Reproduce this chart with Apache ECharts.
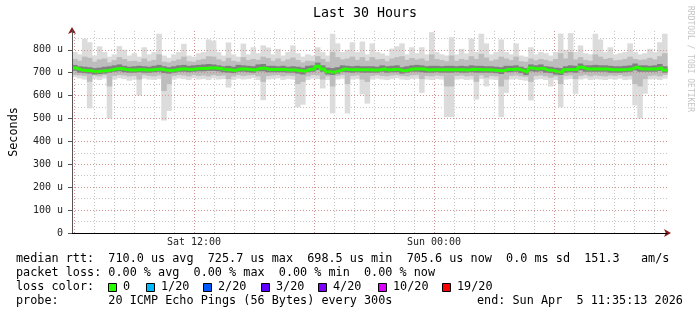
<!DOCTYPE html>
<html><head><meta charset="utf-8">
<script src="https://cdn.jsdelivr.net/npm/echarts@6/dist/echarts.min.js"></script>
<style>html,body{margin:0;padding:0;background:#fff}#c{width:697px;height:315px}</style>
</head><body><div id="c"></div>
<script>
// ---- data (hours since Sat 00:00; one column = 15 min) ----
const startHour = 5.65;      // Sat 05:39
const endHour = 35.65;       // Sun 11:39
const stepHours = 0.25;
const yMaxValue = 882;       // microseconds at top of plot
const yTickValues = [0,100,200,300,400,500,600,700,800];
const yTickLabels = ['0','100 u','200 u','300 u','400 u','500 u','600 u','700 u','800 u'];
const xTickHours = [12, 24];
const xTickLabels = ['Sat 12:00', 'Sun 00:00'];

const median = [
720,712,710,708,704,706,708,712,716,718,
714,712,712,714,712,712,714,716,712,710,
712,716,716,714,716,718,718,720,720,718,
714,713,710,716,716,714,712,718,720,714,
714,714,714,712,712,710,706,714,716,728,
716,704,702,708,716,714,713,713,713,713,
712,712,716,712,714,714,708,712,716,716,
716,712,713,713,713,713,713,713,713,712,
715,714,713,713,712,710,708,714,714,716,
710,702,720,716,720,712,711,704,702,713,
714,714,724,716,716,716,716,716,713,713,
713,714,716,724,716,716,716,716,722,712];

const smokeHi = [
790,780,848,833,775,815,790,770,780,816,
800,775,785,770,811,780,790,870,775,765,
780,790,826,775,770,785,790,845,840,790,
775,832,780,770,827,780,811,785,819,810,
780,804,775,790,819,785,770,780,775,811,
790,775,870,828,790,800,833,790,836,780,
828,790,784,775,805,815,828,780,811,785,
811,780,877,790,780,775,855,780,804,784,
849,790,870,828,780,790,845,790,780,828,
775,770,811,780,790,785,775,790,871,800,
873,790,819,785,780,870,845,790,811,780,
785,790,828,790,780,785,804,790,833,870];

const smokeLo = [
680,675,670,544,672,668,675,500,670,676,
672,665,670,600,674,670,668,672,491,533,
670,675,672,668,676,670,672,668,675,670,
672,635,668,674,670,672,676,668,580,670,
672,675,668,672,670,549,560,668,674,672,
631,668,522,670,674,522,670,672,605,565,
670,674,670,668,672,676,670,668,672,674,
612,670,668,672,670,506,506,670,672,668,
670,583,672,640,670,668,506,612,670,672,
668,665,579,670,672,668,640,668,549,670,
672,608,670,674,668,672,670,668,672,670,
674,668,670,557,500,608,670,672,668,674];

const midHi = [
760,752,770,765,748,758,762,745,755,768,
760,750,752,748,762,750,756,780,748,745,
752,758,770,750,748,756,760,772,770,758,
750,765,752,748,768,755,760,756,770,764,
752,762,750,758,766,755,745,752,750,772,
760,748,790,768,758,762,770,756,768,752,
768,758,760,750,762,768,772,756,764,758,
762,752,780,760,755,750,775,752,760,756,
772,760,782,766,752,758,770,762,755,770,
750,748,762,754,760,756,750,760,785,762,
790,758,768,756,752,780,770,760,764,754,
756,760,770,760,756,758,765,758,772,785];

const midLo = [
690,688,686,660,688,684,690,640,686,690,
688,684,686,670,690,686,684,688,620,650,
686,690,688,684,690,686,688,684,690,686,
688,672,684,690,686,688,690,684,660,686,
688,690,684,688,686,650,660,684,690,688,
670,684,640,686,690,650,686,688,670,660,
686,690,686,684,688,690,686,684,688,690,
672,686,684,688,686,640,640,686,688,684,
686,660,688,678,686,684,640,670,686,688,
684,682,660,686,688,684,678,684,650,686,
688,672,686,690,684,688,686,684,688,686,
690,684,686,650,640,672,686,688,684,690];

const innerHi = [
734,728,726,724,720,722,726,728,732,736,
730,726,728,730,728,726,730,734,728,724,
728,732,734,730,732,734,736,738,736,732,
728,730,726,734,732,730,728,736,738,730,
730,728,730,726,728,726,722,730,732,744,
732,722,720,724,732,730,728,730,728,728,
728,726,732,728,730,732,724,728,732,734,
732,728,730,730,728,730,730,728,730,728,
732,730,730,728,728,726,724,730,730,732,
726,720,736,732,736,728,726,722,720,728,
732,730,740,732,732,734,732,732,730,728,
728,730,732,740,732,732,730,732,738,728];

const innerLo = [
708,700,698,696,692,694,696,700,704,706,
702,700,700,702,700,700,702,704,698,696,
700,704,704,702,704,706,706,708,708,706,
702,700,698,704,704,702,700,706,706,702,
702,702,702,700,700,696,692,702,704,712,
704,692,690,696,704,702,700,702,700,700,
700,700,704,700,702,702,696,700,704,704,
702,700,700,702,700,700,700,702,700,700,
702,700,700,700,700,698,694,702,702,704,
698,690,706,704,706,700,698,692,690,700,
702,700,710,704,704,704,704,704,700,700,
700,702,704,710,704,704,704,704,708,700];

const lossLabels = ['0','1/20','2/20','3/20','4/20','10/20','19/20'];
const lossColors = ['#26ff00','#00b8ff','#0059ff','#5e00ff','#7e00ff','#dd00ff','#ff0000'];
const legendRow1 = 'median rtt:  710.0 us avg  725.7 us max  698.5 us min  705.6 us now  0.0 ms sd  151.3   am/s';
const legendRow2 = 'packet loss: 0.00 % avg  0.00 % max  0.00 % min  0.00 % now';
const legendRow3 = 'loss color:';
const legendRow4 = 'probe:       20 ICMP Echo Pings (56 Bytes) every 300s';
const legendEnd = 'end: Sun Apr  5 11:35:13 2026';
const titleText = 'Last 30 Hours';
const creditText = 'RRDTOOL / TOBI OETIKER';

// ---- build ----
function bandData(lo, hi) {
  return lo.map((v, i) => [startHour + i * stepHours, startHour + (i + 1) * stepHours, v, hi[i]]);
}
function renderBand(params, api) {
  const p0 = api.coord([api.value(0), api.value(3)]);
  const p1 = api.coord([api.value(1), api.value(2)]);
  return { type: 'rect', shape: { x: p0[0], y: p0[1], width: p1[0] - p0[0] + 0.6, height: p1[1] - p0[1] },
           style: { fill: api.visual('color') } };
}
// step 'end': each column drawn at its own value from its start to the next column start
const medianData = median.map((v, i) => [startHour + i * stepHours, v]);
medianData.push([endHour, median[median.length - 1]]);

const MONO = 'DejaVu Sans Mono';
const minorGrid = { color: 'rgba(150,150,150,0.55)', type: [1, 2], width: 1 };
const majorGrid = { color: 'rgba(215,110,110,0.6)', type: [1, 2], width: 1 };
const TOP = 31, H = 202;
const arrowLine = { show: true, symbol: ['none', 'arrow'], symbolSize: [6, 7], symbolOffset: [0, 4], lineStyle: { color: '#8b1a1a', width: 0 } };

const graphic = [
  { type: 'text', x: 365, y: 14, style: { text: titleText, font: '13.3px "DejaVu Sans Mono"', fill: '#000', align: 'center', verticalAlign: 'middle' } },
  { type: 'text', x: 690, y: 59, rotation: -Math.PI / 2, style: { text: creditText, font: '8px "DejaVu Sans Mono"', fill: '#c4c4c4', align: 'center', verticalAlign: 'middle' } },
  { type: 'text', x: 16, y: 259, style: { text: legendRow1, font: '11.8px "DejaVu Sans Mono"', fill: '#000', verticalAlign: 'middle' } },
  { type: 'text', x: 16, y: 273, style: { text: legendRow2, font: '11.8px "DejaVu Sans Mono"', fill: '#000', verticalAlign: 'middle' } },
  { type: 'text', x: 16, y: 287, style: { text: legendRow3, font: '11.8px "DejaVu Sans Mono"', fill: '#000', verticalAlign: 'middle' } },
  { type: 'text', x: 16, y: 301, style: { text: legendRow4, font: '11.8px "DejaVu Sans Mono"', fill: '#000', verticalAlign: 'middle' } },
  { type: 'text', x: 477, y: 301, style: { text: legendEnd, font: '11.8px "DejaVu Sans Mono"', fill: '#000', verticalAlign: 'middle' } }
];
const squareX = [108, 146, 203, 261, 318, 378, 442];
lossLabels.forEach((lab, i) => {
  graphic.push({ type: 'rect', shape: { x: squareX[i] + 0.5, y: 283.5, width: 8, height: 8 }, style: { fill: lossColors[i], stroke: '#000', lineWidth: 1 } });
  graphic.push({ type: 'text', x: squareX[i] + 15, y: 287, style: { text: lab, font: '11.8px "DejaVu Sans Mono"', fill: '#000', verticalAlign: 'middle' } });
});

const chart = echarts.init(document.getElementById('c'), null, { renderer: 'canvas' });
chart.setOption({
  backgroundColor: '#fff',
  animation: false,
  graphic: graphic,
  grid: [
    { left: 67, top: TOP, width: 600, height: H },
    { left: 54, top: TOP, width: 620, height: H },
    { left: 74, top: TOP, width: 600, height: H }
  ],
  xAxis: [
    { gridIndex: 0, type: 'value', min: startHour, max: endHour, position: 'bottom', z: 5,
      axisLine: { show: true, lineStyle: { color: '#000', width: 1 } }, axisTick: { show: false },
      axisLabel: { show: false }, splitLine: { show: false } },
    { gridIndex: 1, type: 'value', min: 5, max: 36, interval: 1, z: 1,
      axisLine: { show: false }, axisTick: { show: false }, axisLabel: { show: false },
      splitLine: { show: true, showMinLine: false, showMaxLine: false, lineStyle: minorGrid } },
    { gridIndex: 2, type: 'value', min: 6, max: 36, interval: 6, z: 2,
      axisLine: { show: false }, axisTick: { show: false },
      axisLabel: { show: true, showMaxLabel: false, margin: 4, fontFamily: MONO, fontSize: 10, color: '#222',
        formatter: v => { const k = xTickHours.indexOf(v); return k >= 0 ? xTickLabels[k] : ''; } },
      splitLine: { show: true, showMinLine: true, showMaxLine: false, lineStyle: majorGrid } },
    { gridIndex: 0, type: 'value', min: startHour, max: endHour, position: 'bottom', z: 4,
      axisLine: arrowLine, axisTick: { show: false }, axisLabel: { show: false }, splitLine: { show: false } }
  ],
  yAxis: [
    { gridIndex: 0, type: 'value', min: 0, max: yMaxValue, interval: 100, position: 'left', z: 5,
      axisLine: { show: true, lineStyle: { color: '#555', width: 1 } },
      axisTick: { show: true, length: 4, lineStyle: { color: '#555' } },
      axisLabel: { showMaxLabel: false, margin: 9, fontFamily: MONO, fontSize: 10, color: '#222',
        formatter: v => { const k = yTickValues.indexOf(v); return k >= 0 ? yTickLabels[k] : ''; } },
      splitLine: { show: true, showMaxLine: false, lineStyle: majorGrid },
      name: 'Seconds', nameLocation: 'middle', nameGap: 52, nameTextStyle: { fontFamily: MONO, fontSize: 11.8, color: '#000' } },
    { gridIndex: 0, type: 'value', min: 0, max: yMaxValue, interval: 50, position: 'left', z: 1,
      axisLine: { show: false }, axisTick: { show: false }, axisLabel: { show: false },
      splitLine: { show: true, showMinLine: false, showMaxLine: false, lineStyle: minorGrid } },
    { gridIndex: 1, type: 'value', min: 0, max: yMaxValue, show: false },
    { gridIndex: 2, type: 'value', min: 0, max: yMaxValue, show: false },
    { gridIndex: 0, type: 'value', min: 0, max: yMaxValue, position: 'left', z: 4,
      axisLine: arrowLine, axisTick: { show: false }, axisLabel: { show: false }, splitLine: { show: false } }
  ],
  series: [
    { type: 'custom', name: 'smoke outer', xAxisIndex: 0, yAxisIndex: 0, renderItem: renderBand,
      itemStyle: { color: '#dcdcdc' }, encode: { x: [0, 1], y: [2, 3] }, data: bandData(smokeLo, smokeHi), z: 3 },
    { type: 'custom', name: 'smoke mid', xAxisIndex: 0, yAxisIndex: 0, renderItem: renderBand,
      itemStyle: { color: '#bdbdbd' }, encode: { x: [0, 1], y: [2, 3] }, data: bandData(midLo, midHi), z: 3 },
    { type: 'custom', name: 'smoke inner', xAxisIndex: 0, yAxisIndex: 0, renderItem: renderBand,
      itemStyle: { color: '#808080' }, encode: { x: [0, 1], y: [2, 3] }, data: bandData(innerLo, innerHi), z: 3 },
    { type: 'line', name: 'median rtt', xAxisIndex: 0, yAxisIndex: 0, data: medianData, step: 'end',
      showSymbol: false, lineStyle: { color: '#26ff00', width: 3 }, z: 4 }
  ]
});
</script></body></html>
